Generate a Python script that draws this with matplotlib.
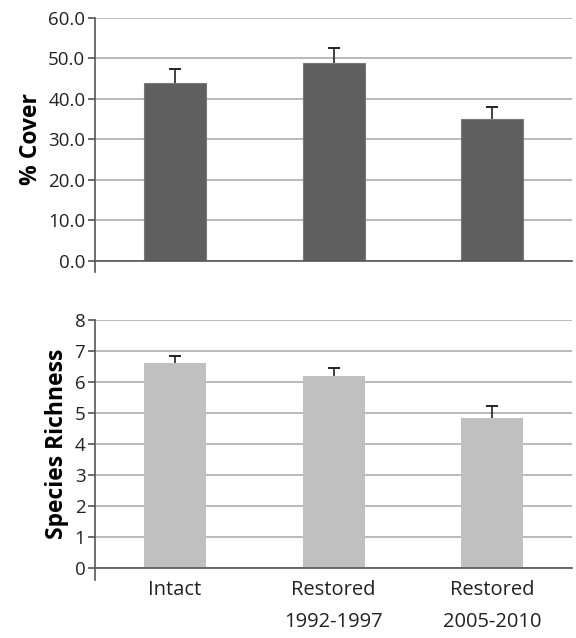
import numpy as np
import matplotlib.pyplot as plt

plt.rcParams['font.family'] = ['Open Sans', 'DejaVu Sans']

# categories
sites = ["Intact", "Restored\n1992-1997", "Restored\n2005-2010"]

# % cover (mean and upper error)
cover = [44.0, 48.9, 35.1]
cover_err = [3.4, 3.7, 2.9]

# species richness
richness = [6.61, 6.19, 4.84]
richness_err = [0.23, 0.26, 0.39]

x = np.arange(len(sites))

fig = plt.figure(figsize=(5.76, 6.38), dpi=100)
ax1 = fig.add_axes([0.165, 0.591, 0.828, 0.381])
ax2 = fig.add_axes([0.165, 0.110, 0.828, 0.388])


def style(ax, ymax, step, fmt, ext):
    ax.set_xlim(-0.5, len(sites) - 0.5)
    ax.set_ylim(0, ymax)
    ax.set_yticks(np.arange(0, ymax + step / 2, step))
    ax.set_yticklabels([fmt.format(v) for v in np.arange(0, ymax + step / 2, step)])
    ax.yaxis.grid(True, color="#b4b4b4", linewidth=1.3)
    ax.set_axisbelow(True)
    for s in ["top", "right"]:
        ax.spines[s].set_visible(False)
    ax.spines["left"].set_color("#555555")
    ax.spines["bottom"].set_color("#555555")
    ax.spines["left"].set_linewidth(1.2)
    ax.spines["bottom"].set_linewidth(1.2)
    ax.spines["left"].set_bounds(-ext, ymax)
    ax.tick_params(axis="y", length=5, width=1.2, color="#555555", labelsize=13.5,
                   labelcolor="#222222", pad=2)
    ax.tick_params(axis="x", length=0)


ax1.bar(x, cover, width=0.39, color="#5f5f5f", edgecolor="#7a7a7a", linewidth=0.8, zorder=2)
ax1.vlines(x, cover, np.add(cover, cover_err), color="#222222", linewidth=1.2, zorder=3)
ax1.plot(x, np.add(cover, cover_err), linestyle="none", marker="_", ms=8, mew=1.4,
         color="#222222", zorder=3)
style(ax1, 60, 10, "{:.1f}", 2.7)
ax1.set_xticks(x)
ax1.set_xticklabels([])
ax1.set_ylabel("% Cover", fontsize=16.5, fontweight="bold", labelpad=4)

ax2.bar(x, richness, width=0.39, color="#c0c0c0", zorder=2)
ax2.vlines(x, richness, np.add(richness, richness_err), color="#222222", linewidth=1.2, zorder=3)
ax2.plot(x, np.add(richness, richness_err), linestyle="none", marker="_", ms=8, mew=1.4,
         color="#222222", zorder=3)
style(ax2, 8, 1, "{:.0f}", 0.38)
ax2.set_xticks(x)
ax2.set_xticklabels(sites, fontsize=14.5, color="#222222", linespacing=1.8, va="top")
ax2.tick_params(axis="x", pad=9)
ax2.set_ylabel("Species Richness", fontsize=16.5, fontweight="bold", labelpad=4)

fig.savefig("out.png", dpi=100)
